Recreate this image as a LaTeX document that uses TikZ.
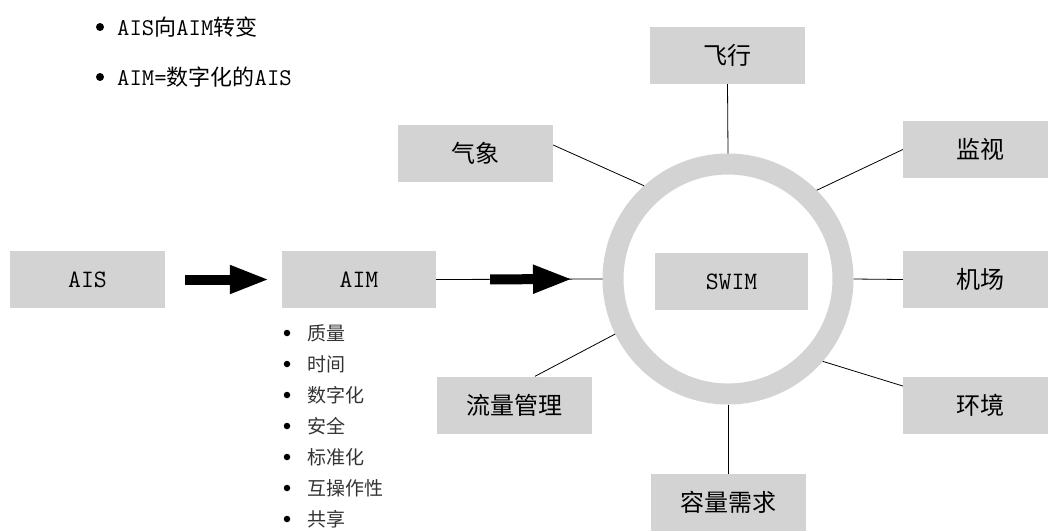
\documentclass[tikz,border=0pt]{standalone}
\usepackage{fontspec}
\newfontfamily\cjk{Noto Sans CJK SC}
\usetikzlibrary{arrows.meta}
\definecolor{boxgray}{RGB}{211,211,211}
\newcommand{\lat}{\ttfamily\fontsize{24}{24}\selectfont}
\newcommand{\han}{\cjk\fontsize{22}{22}\selectfont}
\begin{document}
\begin{tikzpicture}[x=1pt,y=-1pt,
  box/.style={fill=boxgray, minimum width=155pt, minimum height=57pt, inner sep=0pt,
    font=\cjk\fontsize{24}{24}\selectfont},
  lbox/.style={box, font=\ttfamily\fontsize{25}{25}\selectfont},
  link/.style={draw=black, line width=0.8pt},
  bigarrow/.style={line width=10pt, -{Triangle[length=40pt,width=26pt]}},
  dot/.style={circle, fill=black, inner sep=0pt, minimum size=8pt},
  toptext/.style={anchor=base west, inner sep=0pt},
  listtext/.style={anchor=base west, inner sep=0pt, text=black!80, font=\cjk\fontsize{19}{19}\selectfont}]
\useasboundingbox (0,0) rectangle (1048,531);
\clip (0,0) rectangle (1048,531);

% top bullets
\node[dot] (b1) at (100,27) {};
\node[toptext] (t1) at (117,35.5) {{\lat AIS}{\han 向}{\lat AIM}{\han 转变}};
\node[dot] (b2) at (100,77) {};
\node[toptext] (t2) at (117,85.5) {{\lat AIM=}{\han 数字化的}{\lat AIS}};

% ring
\node[circle, draw=boxgray, line width=21pt, minimum size=230pt, inner sep=0pt, outer sep=10.5pt] (ring) at (728,279) {};

% boxes
\node[lbox] (ais) at (87.5,279.5) {AIS};
\node[lbox, minimum width=154pt] (aim) at (359,279.5) {AIM};
\node[lbox, minimum width=153pt] (swim) at (731.5,281.5) {SWIM};
\node[box] (fly) at (727.5,55.5) {飞行};
\node[box] (wx) at (475.5,153.5) {气象};
\node[box] (mon) at (980.5,149.5) {监视};
\node[box] (apt) at (980.5,279.5) {机场};
\node[box] (env) at (980.5,405) {环境};
\node[box] (flow) at (514.5,405) {流量管理};
\node[box] (cap) at (728,502.5) {容量需求};

% connectors
\draw[link] (fly.south) -- (ring.north);
\draw[link] ([yshift=8.5pt]wx.east) -- (ring.132.4);
\draw[link] (mon.west) -- (ring.45);
\draw[link] (ring.east) -- (apt.west);
\draw[link] ([yshift=19pt]env.west) -- (ring.-41.4);
\draw[link] ([xshift=20.5pt]flow.north) -- (ring.206);
\draw[link] (ring.south) -- (cap.north);
\draw[link] (aim.east) -- (ring.west);

% big arrows
\draw[bigarrow, shorten <=20pt, shorten >=12pt] (ais.east) -- (aim.west);
\draw[bigarrow, shorten <=54pt, shorten >=29.5pt] (aim.east) -- (ring.west);

% list under AIM
\foreach \t [count=\i] in {质量,时间,数字化,安全,标准化,互操作性,共享} {
  \node[dot, minimum size=6.5pt] (ld\i) at (287,{302+31*\i}) {};
  \node[listtext] (lt\i) at (307,{302+31*\i+7}) {\t};
}
\end{tikzpicture}
\end{document}
